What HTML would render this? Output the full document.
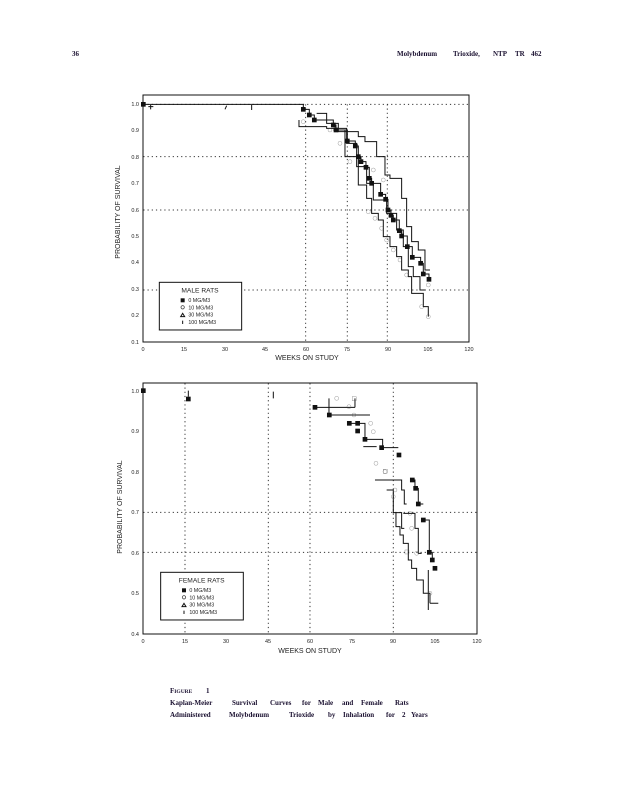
<!DOCTYPE html>
<html><head><meta charset="utf-8"><style>
body{margin:0;background:#fff;width:618px;height:800px;overflow:hidden}
svg{display:block}
text{font-family:"Liberation Sans",sans-serif;fill:#222}
.s{font-family:"Liberation Serif",serif;font-weight:bold;fill:#1a1030}
.ln{fill:none;stroke:#111;stroke-width:1;vector-effect:non-scaling-stroke}
.gd{stroke:#333;stroke-width:1;stroke-dasharray:1.2 3;vector-effect:non-scaling-stroke;fill:none}
.oc{fill:none;stroke:#444;stroke-width:0.8;vector-effect:non-scaling-stroke}
</style></head><body>
<svg width="618" height="800" viewBox="0 0 618 800">
<text class="s" x="72" y="56" font-size="7">36</text>
<text class="s" x="397" y="56" font-size="7">Molybdenum</text>
<text class="s" x="453" y="56" font-size="7">Trioxide,</text>
<text class="s" x="493" y="56" font-size="7">NTP</text>
<text class="s" x="515" y="56" font-size="7">TR</text>
<text class="s" x="531" y="56" font-size="7">462</text>

<!-- Chart 1 -->
<rect x="143" y="95" width="326" height="247" fill="none" stroke="#111" stroke-width="1"/>
<g transform="translate(100,90) scale(0.3333)">
<path class="gd" d="M130,43H1107 M130,200H1107 M130,360H1107 M130,600H1107 M617,43V757 M742,43V757 M862,43V757"/>
<path class="ln" d="M130,43H610V58H628V75H643V90H700V105H708V120H742V153H766V168H775V200H783V215H798V232H808V265H815V280H842V313H857V328H864V360H873V376H880V390H898V422H905V438H922V470H937V502H962V520H970V552H987V568"/>
<path class="ln" d="M650,70H680V100H715V125H775V140H795V155H830V200H855V255H870V265H905V325H920V410H935V455H955V480H975V540H990"/>
<path class="ln" d="M597,90V110H680V115H740V160H770V230H800V280H820V330H860V370H890V420H910V470H925V530H940V560H960V600H975"/>
<path class="ln" d="M700,120H735V200H775V285H800V325H815V370H835V390H850V440H870V470H890V500H905V540H925V560H935V610H970V650H985V680"/>
<g fill="#111">
<rect x="603" y="51" width="14" height="14"/><rect x="621" y="68" width="14" height="14"/><rect x="636" y="83" width="14" height="14"/><rect x="693" y="98" width="14" height="14"/><rect x="701" y="113" width="14" height="14"/><rect x="735" y="146" width="14" height="14"/><rect x="759" y="161" width="14" height="14"/><rect x="768" y="193" width="14" height="14"/><rect x="776" y="208" width="14" height="14"/><rect x="791" y="225" width="14" height="14"/><rect x="801" y="258" width="14" height="14"/><rect x="808" y="273" width="14" height="14"/><rect x="835" y="306" width="14" height="14"/><rect x="850" y="321" width="14" height="14"/><rect x="857" y="353" width="14" height="14"/><rect x="866" y="369" width="14" height="14"/><rect x="873" y="383" width="14" height="14"/><rect x="891" y="415" width="14" height="14"/><rect x="898" y="431" width="14" height="14"/><rect x="915" y="463" width="14" height="14"/><rect x="930" y="495" width="14" height="14"/><rect x="955" y="513" width="14" height="14"/><rect x="963" y="545" width="14" height="14"/><rect x="980" y="561" width="14" height="14"/><rect x="123" y="36" width="14" height="14"/>
</g>
<g class="oc"><circle cx="610" cy="95" r="6"/><circle cx="690" cy="120" r="6"/><circle cx="720" cy="160" r="6"/><circle cx="750" cy="215" r="6"/><circle cx="805" cy="365" r="6"/><circle cx="825" cy="385" r="6"/><circle cx="845" cy="415" r="6"/><circle cx="860" cy="450" r="6"/><circle cx="880" cy="480" r="6"/><circle cx="900" cy="510" r="6"/><circle cx="920" cy="555" r="6"/><circle cx="965" cy="650" r="6"/><circle cx="985" cy="680" r="6"/><circle cx="985" cy="585" r="6"/><circle cx="820" cy="240" r="6"/><circle cx="850" cy="270" r="6"/></g>
<path class="ln" d="M145,50H160M152,45V58 M380,47L375,58 M455,45V60"/>
<rect x="178" y="577" width="247" height="143" fill="#fff" stroke="#111" stroke-width="3"/>
<text x="300" y="608" font-size="20" text-anchor="middle">MALE RATS</text>
<rect x="242" y="625" width="12" height="12" fill="#111"/><text x="265" y="636" font-size="16">0 MG/M3</text>
<circle cx="248" cy="652" r="5" class="oc"/><text x="265" y="658" font-size="16">10 MG/M3</text>
<path class="ln" d="M242,680L248,670L254,680Z"/><text x="265" y="680" font-size="16">30 MG/M3</text>
<path class="ln" d="M248,692V702"/><text x="265" y="702" font-size="16">100 MG/M3</text>
</g>
<g font-size="5.5" text-anchor="end">
<text x="139" y="106">1.0</text><text x="139" y="132">0.9</text><text x="139" y="159">0.8</text><text x="139" y="185">0.7</text><text x="139" y="212">0.6</text><text x="139" y="238">0.5</text><text x="139" y="264">0.4</text><text x="139" y="291">0.3</text><text x="139" y="317">0.2</text><text x="139" y="344">0.1</text>
</g>
<g font-size="5.5" text-anchor="middle">
<text x="143" y="351">0</text><text x="184" y="351">15</text><text x="225" y="351">30</text><text x="265" y="351">45</text><text x="306" y="351">60</text><text x="347" y="351">75</text><text x="388" y="351">90</text><text x="428" y="351">105</text><text x="469" y="351">120</text>
</g>
<text x="307" y="360" font-size="7" text-anchor="middle">WEEKS ON STUDY</text>
<text transform="translate(120,212) rotate(-90)" font-size="7" text-anchor="middle">PROBABILITY OF SURVIVAL</text>

<!-- Chart 2 -->
<rect x="143" y="383" width="334" height="251" fill="none" stroke="#111" stroke-width="1"/>
<g transform="translate(100,380) scale(0.3333)">
<path class="gd" d="M130,397H1130 M130,517H1130 M255,10V762 M505,10V762 M630,10V762 M880,10V762"/>
<path class="ln" d="M645,82H765 M688,105H810 M748,130H795V178H848V203H895 M937,300H945V325H955V372H970 M970,420H988V517H997V540 M825,300H905V330H913V372H920 M860,330H880V398H905V445H913 M880,398H888V440H900V465H910V490H925V540H935V565H950V600H970V640H990V670 M910,400H945V445H955V520H965 M687,55V105 M765,55V82 M790,200H830 M985,570V690 M990,670H1015 M265,32V50 M520,35V55"/>
<g fill="#111">
<rect x="123" y="25" width="14" height="14"/><rect x="258" y="50" width="14" height="14"/><rect x="638" y="75" width="14" height="14"/><rect x="681" y="98" width="14" height="14"/><rect x="741" y="123" width="14" height="14"/><rect x="766" y="123" width="14" height="14"/><rect x="766" y="146" width="14" height="14"/><rect x="788" y="171" width="14" height="14"/><rect x="838" y="196" width="14" height="14"/><rect x="890" y="218" width="14" height="14"/><rect x="930" y="293" width="14" height="14"/><rect x="940" y="318" width="14" height="14"/><rect x="948" y="365" width="14" height="14"/><rect x="963" y="413" width="14" height="14"/><rect x="981" y="510" width="14" height="14"/><rect x="990" y="533" width="14" height="14"/><rect x="998" y="558" width="14" height="14"/>
</g>
<g class="oc"><circle cx="710" cy="55" r="6"/><circle cx="747" cy="80" r="6"/><circle cx="762" cy="105" r="6"/><circle cx="812" cy="130" r="6"/><circle cx="820" cy="155" r="6"/><circle cx="828" cy="250" r="6"/><circle cx="855" cy="275" r="6"/><circle cx="880" cy="350" r="6"/><circle cx="930" cy="400" r="6"/><circle cx="935" cy="445" r="6"/><circle cx="950" cy="520" r="6"/><circle cx="990" cy="640" r="6"/><circle cx="885" cy="330" r="6"/><rect x="757" y="50" width="12" height="12"/><rect x="850" y="268" width="12" height="12"/><rect x="915" y="510" width="12" height="12"/></g>
<rect x="182" y="577" width="248" height="143" fill="#fff" stroke="#111" stroke-width="3"/>
<text x="305" y="608" font-size="20" text-anchor="middle">FEMALE RATS</text>
<rect x="246" y="625" width="12" height="12" fill="#111"/><text x="268" y="636" font-size="16">0 MG/M3</text>
<circle cx="252" cy="652" r="5" class="oc"/><text x="268" y="658" font-size="16">10 MG/M3</text>
<path class="ln" d="M246,680L252,670L258,680Z"/><text x="268" y="680" font-size="16">30 MG/M3</text>
<path class="ln" d="M252,692V702"/><text x="268" y="702" font-size="16">100 MG/M3</text>
</g>
<g font-size="5.5" text-anchor="end">
<text x="139" y="393">1.0</text><text x="139" y="433">0.9</text><text x="139" y="474">0.8</text><text x="139" y="514">0.7</text><text x="139" y="555">0.6</text><text x="139" y="595">0.5</text><text x="139" y="636">0.4</text>
</g>
<g font-size="5.5" text-anchor="middle">
<text x="143" y="643">0</text><text x="185" y="643">15</text><text x="226" y="643">30</text><text x="268" y="643">45</text><text x="310" y="643">60</text><text x="352" y="643">75</text><text x="393" y="643">90</text><text x="435" y="643">105</text><text x="477" y="643">120</text>
</g>
<text x="310" y="653" font-size="7" text-anchor="middle">WEEKS ON STUDY</text>
<text transform="translate(122,507) rotate(-90)" font-size="7" text-anchor="middle">PROBABILITY OF SURVIVAL</text>

<!-- Caption -->
<text class="s" x="170" y="693" font-size="7">F<tspan font-size="5.5">IGURE</tspan></text>
<text class="s" x="206" y="693" font-size="7">1</text>
<text class="s" x="170" y="705" font-size="7">Kaplan-Meier</text>
<text class="s" x="232" y="705" font-size="7">Survival</text>
<text class="s" x="270" y="705" font-size="7">Curves</text>
<text class="s" x="302" y="705" font-size="7">for</text>
<text class="s" x="318" y="705" font-size="7">Male</text>
<text class="s" x="342" y="705" font-size="7">and</text>
<text class="s" x="361" y="705" font-size="7">Female</text>
<text class="s" x="395" y="705" font-size="7">Rats</text>
<text class="s" x="170" y="717" font-size="7">Administered</text>
<text class="s" x="229" y="717" font-size="7">Molybdenum</text>
<text class="s" x="289" y="717" font-size="7">Trioxide</text>
<text class="s" x="328" y="717" font-size="7">by</text>
<text class="s" x="343" y="717" font-size="7">Inhalation</text>
<text class="s" x="386" y="717" font-size="7">for</text>
<text class="s" x="402" y="717" font-size="7">2</text>
<text class="s" x="411" y="717" font-size="7">Years</text>
</svg>
</body></html>
